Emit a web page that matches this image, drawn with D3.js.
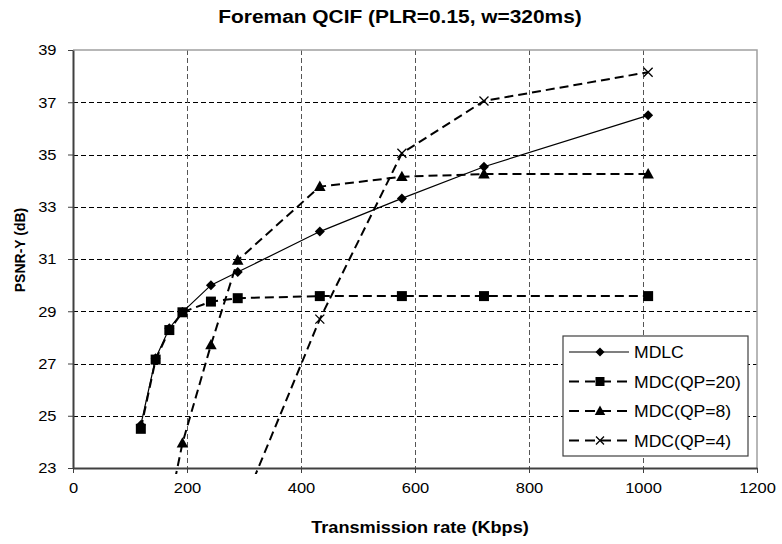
<!DOCTYPE html>
<html>
<head>
<meta charset="utf-8">
<script src="https://cdn.jsdelivr.net/npm/d3@7"></script>
<style>
  body { margin: 0; background: #fff; }
  text { font-family: "Liberation Sans", Arial, sans-serif; fill: #000; }
</style>
</head>
<body>
<div id="chart"></div>
<script>
// data
var rateMain = [119, 145, 169, 192, 242, 289, 433, 577, 721, 1009];
var psnrMDLC = [24.65, 27.2, 28.35, 28.97, 30.0, 30.5, 32.05, 33.32, 34.53, 36.5];
var psnrQP20 = [24.5, 27.15, 28.28, 28.96, 29.37, 29.5, 29.58, 29.58, 29.58, 29.58];
var rateQP8 = [169, 192, 242, 289, 433, 577, 721, 1009];
var psnrQP8 = [21.5, 23.95, 27.71, 30.95, 33.77, 34.15, 34.25, 34.25];
var rateQP4 = [289, 433, 577, 721, 1009];
var psnrQP4 = [21.1, 28.7, 35.05, 37.05, 38.15];
var xTicks = [0, 200, 400, 600, 800, 1000, 1200];
var yTicks = [23, 25, 27, 29, 31, 33, 35, 37, 39];

var seriesNames = ["MDLC", "MDC(QP=20)", "MDC(QP=8)", "MDC(QP=4)"];

var series = [
    { name: seriesNames[0], marker: "diamond", dash: null, width: 1.2, pts: rateMain.map(function(r, i) { return [r, psnrMDLC[i]]; }) },
    { name: seriesNames[1], marker: "square", dash: "9,5", width: 2, pts: rateMain.map(function(r, i) { return [r, psnrQP20[i]]; }) },
    { name: seriesNames[2], marker: "triangle", dash: "9,5", width: 2, pts: rateQP8.map(function(r, i) { return [r, psnrQP8[i]]; }) },
    { name: seriesNames[3], marker: "cross", dash: "9,5", width: 2, pts: rateQP4.map(function(r, i) { return [r, psnrQP4[i]]; }) }
];

var W = 782, H = 544;
var pLeft = 73, pRight = 757, pTop = 50, pBottom = 468;
// the reference text is a little wide, stretch it sideways
var stretch = "scale(1.1,1)";

var svg = d3.select("#chart").append("svg")
    .attr("width", W)
    .attr("height", H);

var x = d3.scaleLinear().domain([0, 1200]).range([pLeft, pRight]);
var y = d3.scaleLinear().domain([23, 39]).range([pBottom, pTop]);

// grid lines
svg.append("g").selectAll("line")
    .data(yTicks.slice(1, -1))
    .enter().append("line")
    .attr("x1", pLeft).attr("x2", pRight)
    .attr("y1", function(d) { return Math.round(y(d)) + 0.5; })
    .attr("y2", function(d) { return Math.round(y(d)) + 0.5; })
    .attr("stroke", "#000")
    .attr("stroke-width", 1)
    .attr("stroke-dasharray", "5,3");

svg.append("g").selectAll("line")
    .data(xTicks.slice(1, -1))
    .enter().append("line")
    .attr("y1", pTop).attr("y2", pBottom)
    .attr("x1", function(d) { return Math.round(x(d)) + 0.5; })
    .attr("x2", function(d) { return Math.round(x(d)) + 0.5; })
    .attr("stroke", "#555")
    .attr("stroke-width", 1)
    .attr("stroke-dasharray", "5,3");

// top and right border
svg.append("path")
    .attr("d", "M" + pLeft + "," + pTop + "H" + pRight + "V" + pBottom)
    .attr("fill", "none")
    .attr("stroke", "#a0a0a0")
    .attr("stroke-width", 1.5);

// axes
var xAxis = d3.axisBottom(x).tickValues(xTicks).tickFormat(d3.format("d")).tickSize(5).tickSizeOuter(0);
var yAxis = d3.axisLeft(y).tickValues(yTicks).tickFormat(d3.format("d")).tickSize(5).tickSizeOuter(0);

var gx = svg.append("g")
    .attr("transform", "translate(0," + pBottom + ")")
    .call(xAxis);
var gy = svg.append("g")
    .attr("transform", "translate(" + pLeft + ",0)")
    .call(yAxis);

[gx, gy].forEach(function(g) {
    g.select(".domain").attr("stroke", "#404040").attr("stroke-width", 2);
    g.selectAll(".tick line").attr("stroke", "#404040").attr("stroke-width", 1);
    g.selectAll(".tick text")
        .style("font-family", "'Liberation Sans', Arial, sans-serif")
        .style("font-size", "15px")
        .attr("fill", "#000")
        .attr("transform", stretch);
});
gx.selectAll(".tick text").attr("y", 14);
gy.selectAll(".tick text").attr("x", -15);

// clip for lines that go under the y minimum
svg.append("clipPath").attr("id", "plotclip")
    .append("rect")
    .attr("x", pLeft).attr("y", pTop - 10)
    .attr("width", pRight - pLeft + 10)
    .attr("height", pBottom - pTop + 16);

var line = d3.line()
    .x(function(d) { return x(d[0]); })
    .y(function(d) { return y(d[1]); });

function markerPath(type, s) {
    if (type === "diamond") return "M0," + (-s) + "L" + s + ",0L0," + s + "L" + (-s) + ",0Z";
    if (type === "square") return "M" + (-s) + "," + (-s) + "H" + s + "V" + s + "H" + (-s) + "Z";
    if (type === "triangle") return "M0," + (-s * 1.1) + "L" + (s * 1.05) + "," + (s * 0.8) + "L" + (-s * 1.05) + "," + (s * 0.8) + "Z";
    return "M" + (-s) + "," + (-s) + "L" + s + "," + s + "M" + s + "," + (-s) + "L" + (-s) + "," + s;
}
var markerSize = { diamond: 5, square: 5, triangle: 5.5, cross: 4.5 };

var plot = svg.append("g").attr("clip-path", "url(#plotclip)");

series.forEach(function(s) {
    plot.append("path")
        .datum(s.pts)
        .attr("d", line)
        .attr("fill", "none")
        .attr("stroke", "#000")
        .attr("stroke-width", s.width)
        .attr("stroke-dasharray", s.dash);

    plot.selectAll(null)
        .data(s.pts.filter(function(d) { return d[1] >= 23; }))
        .enter().append("path")
        .attr("transform", function(d) { return "translate(" + x(d[0]) + "," + y(d[1]) + ")"; })
        .attr("d", markerPath(s.marker, markerSize[s.marker]))
        .attr("fill", s.marker === "cross" ? "none" : "#000")
        .attr("stroke", "#000")
        .attr("stroke-width", s.marker === "cross" ? 1.3 : 0);
});

// titles
svg.append("text")
    .attr("transform", "translate(400,23) " + stretch)
    .attr("text-anchor", "middle")
    .style("font-size", "19px")
    .style("font-weight", "bold")
    .text("Foreman QCIF (PLR=0.15, w=320ms)");

svg.append("text")
    .attr("transform", "translate(420,533) " + stretch)
    .attr("text-anchor", "middle")
    .style("font-size", "16.5px")
    .style("font-weight", "bold")
    .text("Transmission rate (Kbps)");

svg.append("text")
    .attr("transform", "translate(25,250) rotate(-90) scale(1,1.1)")
    .attr("text-anchor", "middle")
    .style("font-size", "14px")
    .style("font-weight", "bold")
    .text("PSNR-Y (dB)");

// legend
var legend = svg.append("g")
    .attr("class", "legend")
    .attr("transform", "translate(563,336)");

legend.append("rect")
    .attr("width", 185)
    .attr("height", 120)
    .attr("fill", "#fff")
    .attr("stroke", "#404040")
    .attr("stroke-width", 1.2);

var item = legend.selectAll(".legend-item")
    .data(series)
    .enter().append("g")
    .attr("class", "legend-item")
    .attr("transform", function(d, i) { return "translate(0," + (16 + i * 29.5) + ")"; });

item.append("line")
    .attr("x1", 6).attr("x2", 66)
    .attr("stroke", "#000")
    .attr("stroke-width", function(d) { return d.width; })
    .attr("stroke-dasharray", function(d) { return d.dash ? "10,6" : null; });

item.append("path")
    .attr("transform", "translate(37,0)")
    .attr("d", function(d) { return markerPath(d.marker, markerSize[d.marker] - 0.5); })
    .attr("fill", function(d) { return d.marker === "cross" ? "none" : "#000"; })
    .attr("stroke", "#000")
    .attr("stroke-width", function(d) { return d.marker === "cross" ? 1.3 : 0; });

item.append("text")
    .attr("transform", "translate(71,6) " + stretch)
    .style("font-size", "16px")
    .text(function(d) { return d.name; });
</script>
</body>
</html>
